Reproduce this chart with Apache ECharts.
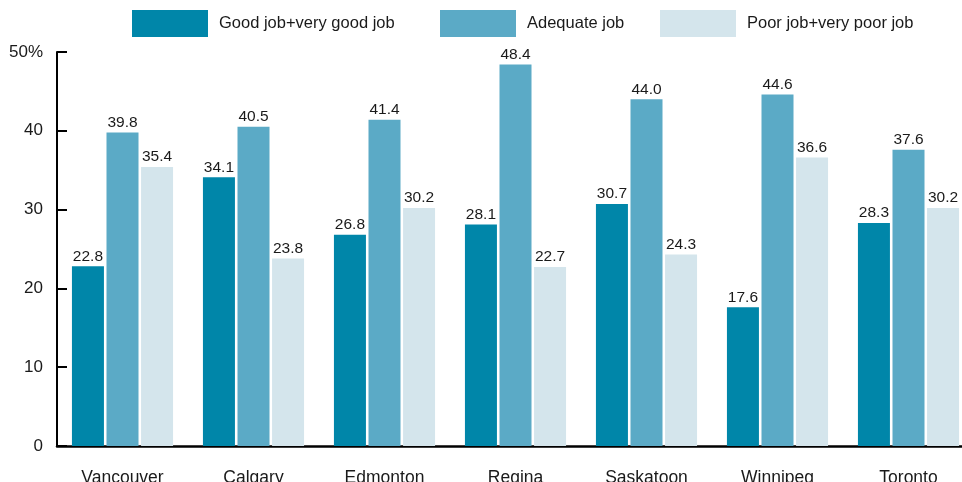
<!DOCTYPE html>
<html>
<head>
<meta charset="utf-8">
<script src="https://cdn.jsdelivr.net/npm/echarts@6/dist/echarts.min.js"></script>
<style>html,body{margin:0;padding:0;background:#fff}#c{width:962px;height:482px}</style>
</head>
<body>
<div id="c"></div>
<script>
const categories = ['Vancouver','Calgary','Edmonton','Regina','Saskatoon','Winnipeg','Toronto'];
const seriesNames = ['Good job+very good job','Adequate job','Poor job+very poor job'];
const goodJob = [22.8, 34.1, 26.8, 28.1, 30.7, 17.6, 28.3];
const adequateJob = [39.8, 40.5, 41.4, 48.4, 44.0, 44.6, 37.6];
const poorJob = [35.4, 23.8, 30.2, 22.7, 24.3, 36.6, 30.2];
const yTicks = [0, 10, 20, 30, 40, 50];

const colors = ['#0086A9', '#5BAAC6', '#D4E5EC'];
const FONT = 'Liberation Sans';
const chart = echarts.init(document.getElementById('c'));
const values = [goodJob, adequateJob, poorJob];
const legendLeft = [132, 440, 660];

chart.setOption({
  animation: false,
  textStyle: { fontFamily: FONT },
  legend: seriesNames.map((n, i) => ({
    data: [n], left: legendLeft[i], top: 10, padding: 0,
    itemWidth: 76, itemHeight: 27, icon: 'rect',
    textStyle: { fontSize: 16.5, color: '#1a1a1a', fontFamily: FONT, padding: [0, 0, 0, 6] }
  })),
  grid: { left: 57, width: 917, top: 52, bottom: 36, containLabel: false, outerBoundsMode: 'none' },
  xAxis: {
    type: 'category', data: categories,
    axisLine: { lineStyle: { color: '#000', width: 2.5 } },
    axisTick: { inside: true, length: 9, lineStyle: { color: '#000', width: 2 } },
    axisLabel: { fontSize: 17.5, color: '#1a1a1a', margin: 23, fontFamily: FONT }
  },
  yAxis: {
    type: 'value', min: 0, max: 50, interval: 10,
    splitLine: { show: false },
    axisLine: { show: true, lineStyle: { color: '#000', width: 2 } },
    axisTick: { show: true, inside: true, length: 10, lineStyle: { color: '#000', width: 2 } },
    axisLabel: { fontSize: 17, color: '#1a1a1a', margin: 14, fontFamily: FONT,
      formatter: v => yTicks.indexOf(v) >= 0 ? (v === 50 ? '50%' : String(v)) : '' }
  },
  series: seriesNames.map((n, i) => ({
    name: n, type: 'bar', data: values[i],
    barWidth: 32, barGap: '8%',
    itemStyle: { color: colors[i] },
    label: { show: true, position: 'top', distance: 2, fontSize: 15.5, color: '#1a1a1a', fontFamily: FONT,
      formatter: p => p.value.toFixed(1) }
  }))
});
</script>
</body>
</html>
